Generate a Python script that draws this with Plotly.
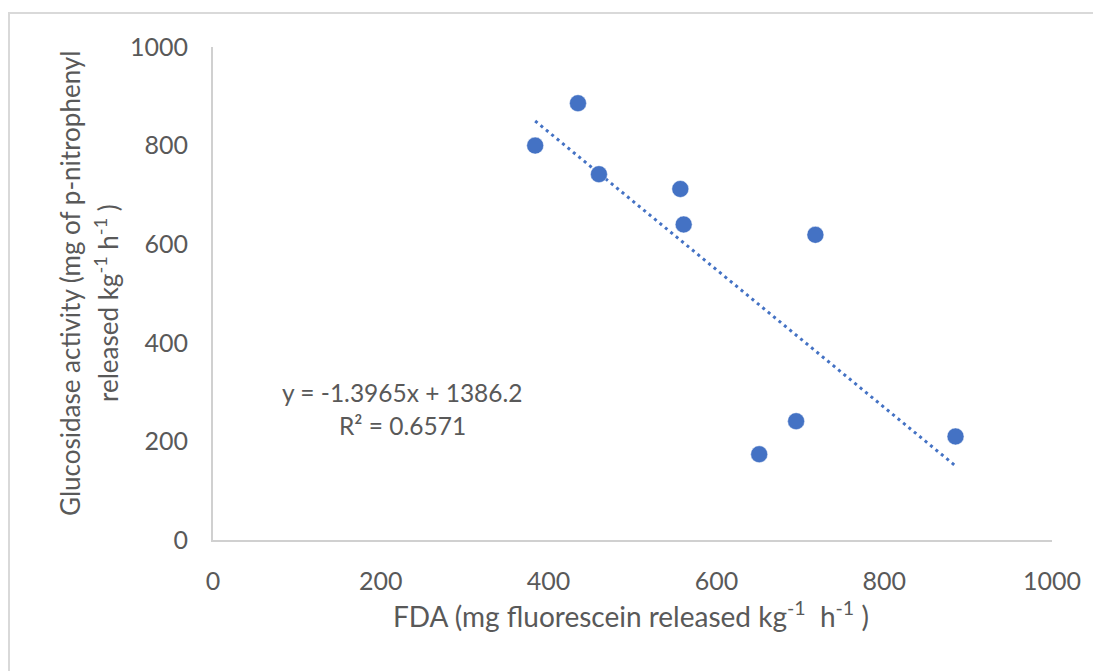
import plotly.graph_objects as go

# Data
fda = [384, 435, 460, 557, 561, 718, 651, 695, 885]
glucosidase = [800, 886, 742, 712, 640, 619, 174, 241, 210]
x_ticks = [0, 200, 400, 600, 800, 1000]
y_ticks = [0, 200, 400, 600, 800, 1000]
slope = -1.3965
intercept = 1386.2
r_squared = 0.6571

# page body offset compensation
OX, OY = 8, 8
W, H = 1101, 671
L, T = 213 - OX, 47 - OY
pw, ph = 839, 493
R = W - L - pw
B = H - T - ph

def px(xp):
    return (xp - OX - L) / pw

def py(yp):
    return (T + ph - (yp - OY)) / ph

FONT = "Lato"
GREY = "#595959"
BLUE = "#4472C4"

trend_x = [min(fda), max(fda)]
trend_y = [slope * v + intercept for v in trend_x]

fig = go.Figure()
fig.add_trace(go.Scatter(
    x=trend_x, y=trend_y, mode="lines",
    line=dict(color=BLUE, width=3, dash="3px,4px"),
    hoverinfo="skip", showlegend=False,
))
fig.add_trace(go.Scatter(
    x=fda, y=glucosidase, mode="markers",
    marker=dict(color=BLUE, size=17, line=dict(color="white", width=0.5)),
    showlegend=False,
))

axis_common = dict(
    showgrid=False, zeroline=False, showline=True,
    linecolor="#d0d0d0", linewidth=2, ticks="",
    tickfont=dict(family=FONT, size=25, color=GREY),
    ticklabelstandoff=18,
)
fig.update_xaxes(range=[0, 1000], tickvals=x_ticks, **axis_common)
fig.update_yaxes(range=[0, 1000], tickvals=y_ticks, **axis_common)

title_font = dict(family=FONT, size=26, color=GREY)
eq_font = dict(family=FONT, size=24.5, color=GREY)
fig.update_layout(
    width=W, height=H,
    margin=dict(l=L, r=R, t=T, b=B, pad=0),
    plot_bgcolor="white", paper_bgcolor="white",
    shapes=[dict(type="rect", xref="paper", yref="paper",
                 x0=px(9), x1=px(1130), y0=py(700), y1=py(13),
                 line=dict(color="#d9d9d9", width=2), layer="below")],
    annotations=[
        dict(text="FDA (mg fluorescein released kg<sup>-1</sup>  h<sup>-1</sup> )",
             xref="paper", yref="paper", x=px(631), y=py(614),
             xanchor="center", yanchor="middle", showarrow=False,
             font=dict(family=FONT, size=28, color=GREY)),
        dict(text="Glucosidase activity (mg of p-nitrophenyl",
             xref="paper", yref="paper", x=px(70), y=py(284), textangle=-90,
             xanchor="center", yanchor="middle", showarrow=False, font=title_font),
        dict(text="released kg<sup>-1</sup> h<sup>-1</sup> )",
             xref="paper", yref="paper", x=px(106), y=py(303), textangle=-90,
             xanchor="center", yanchor="middle", showarrow=False, font=title_font),
        dict(text=f"y = {slope}x + {intercept}",
             xref="paper", yref="paper", x=px(402), y=py(392),
             xanchor="center", yanchor="middle", showarrow=False, font=eq_font),
        dict(text=f"R² = {r_squared}",
             xref="paper", yref="paper", x=px(402), y=py(425),
             xanchor="center", yanchor="middle", showarrow=False, font=eq_font),
    ],
)

fig.write_html("out.html")
